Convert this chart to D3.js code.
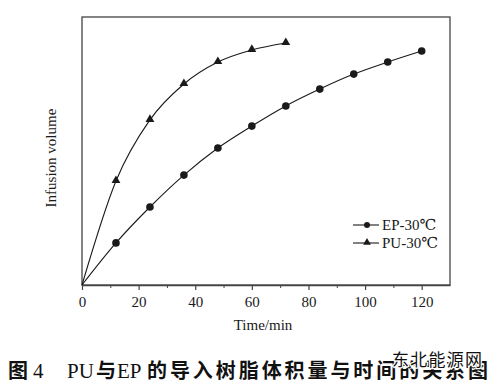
<!DOCTYPE html>
<html lang="zh">
<head>
    <meta charset="UTF-8">
    <title>PU vs EP infusion volume</title>
    <script src="https://d3js.org/d3.v7.min.js"></script>
    <style>
        body { margin: 0; background: #fff; }
        svg { display: block; }
    </style>
</head>
<body>
<div id="chart"></div>
<script>
    // Sample times (min) and infusion volume (arbitrary units)
    var epTimes = [0, 12, 24, 36, 48, 60, 72, 84, 96, 108, 120];
    var epValues = [0, 15.7, 29.1, 41.0, 51.1, 59.3, 66.8, 73.1, 78.7, 83.2, 87.3];
    var puTimes = [0, 12, 24, 36, 48, 60, 72];
    var puValues = [0, 38.8, 61.6, 75.0, 83.2, 87.7, 90.3];
    var xTicks = [0, 20, 40, 60, 80, 100, 120];
    var xMinorTicks = [10, 30, 50, 70, 90, 110];
    var seriesNames = ["EP-30℃", "PU-30℃"];

    var width = 500, height = 385;
    var margin = { left: 82, top: 17, right: 50, bottom: 100 };
    var ink = "#1a1a1a";
    var serif = "'Liberation Serif', 'DejaVu Serif', serif";

    var svg = d3.select("#chart").append("svg")
        .attr("width", width)
        .attr("height", height);

    var x = d3.scaleLinear().domain([0, 130]).range([margin.left, width - margin.right]);
    var y = d3.scaleLinear().domain([0, 100]).range([height - margin.bottom, margin.top]);

    // frame
    svg.append("rect")
        .attr("x", x(0)).attr("y", y(100))
        .attr("width", x(130) - x(0)).attr("height", y(0) - y(100))
        .attr("fill", "none").attr("stroke", "#444").attr("stroke-width", 1.3);

    // x axis: labelled major ticks, short minor ticks
    var xAxis = svg.append("g")
        .attr("transform", "translate(0," + y(0) + ")")
        .call(d3.axisBottom(x).tickValues(xTicks).tickSizeInner(5).tickSizeOuter(0).tickPadding(6));
    xAxis.select(".domain").attr("stroke", "#444").attr("stroke-width", 1.3);
    xAxis.selectAll(".tick line").attr("stroke", "#444").attr("stroke-width", 1.2);
    xAxis.selectAll(".tick text")
        .attr("font-family", serif).attr("font-size", 15).attr("fill", ink);

    svg.append("g")
        .attr("transform", "translate(0," + y(0) + ")")
        .call(d3.axisBottom(x).tickValues(xMinorTicks).tickSize(3).tickFormat(""))
        .call(g => g.select(".domain").remove())
        .selectAll(".tick line").attr("stroke", "#444");

    // axis titles
    svg.append("text")
        .attr("x", (x(0) + x(130)) / 2 - 3).attr("y", 330)
        .attr("text-anchor", "middle")
        .attr("font-family", serif).attr("font-size", 15).attr("fill", ink)
        .text("Time/min");

    svg.append("text")
        .attr("transform", "translate(56,158) rotate(-90)")
        .attr("text-anchor", "middle")
        .attr("font-family", serif).attr("font-size", 15).attr("fill", ink)
        .text("Infusion volume");

    var line = d3.line()
        .x(d => x(d[0]))
        .y(d => y(d[1]))
        .curve(d3.curveMonotoneX);

    var epData = epTimes.map((t, i) => [t, epValues[i]]);
    var puData = puTimes.map((t, i) => [t, puValues[i]]);

    var triangle = d3.symbol().type(d3.symbolTriangle).size(34);

    [epData, puData].forEach(function (data, k) {
        svg.append("path")
            .datum(data)
            .attr("d", line)
            .attr("fill", "none")
            .attr("stroke", ink)
            .attr("stroke-width", 1.1);

        var pts = svg.append("g").selectAll("path")
            .data(data.filter(d => d[0] > 0))
            .enter();

        if (k === 0) {
            pts.append("circle")
                .attr("cx", d => x(d[0])).attr("cy", d => y(d[1]))
                .attr("r", 3.8).attr("fill", ink);
        } else {
            pts.append("path")
                .attr("transform", d => "translate(" + x(d[0]) + "," + (y(d[1]) - 0.5) + ")")
                .attr("d", triangle).attr("fill", ink);
        }
    });

    // legend
    var legend = svg.append("g").attr("transform", "translate(353,225)");
    seriesNames.forEach(function (name, i) {
        var g = legend.append("g").attr("transform", "translate(0," + (i * 18) + ")");
        g.append("line").attr("x1", 0).attr("x2", 26).attr("y1", 0).attr("y2", 0)
            .attr("stroke", ink).attr("stroke-width", 1.1);
        if (i === 0) {
            g.append("circle").attr("cx", 14).attr("cy", 0).attr("r", 3).attr("fill", ink);
        } else {
            g.append("path").attr("transform", "translate(14,-0.5)")
                .attr("d", d3.symbol().type(d3.symbolTriangle).size(26)).attr("fill", ink);
        }
        g.append("text").attr("x", 29).attr("y", 5)
            .attr("font-family", serif).attr("font-size", 15).attr("fill", ink)
            .text(name);
    });

    // figure caption
    var cjk = "'Noto Sans CJK SC', sans-serif";
    var capY = 378;
    var cap = svg.append("g").attr("fill", "#111").attr("font-size", 20);
    cap.append("text").attr("x", 8).attr("y", capY).attr("font-family", cjk).attr("font-weight", 700).text("图");
    cap.append("text").attr("x", 33).attr("y", capY).attr("font-family", serif).attr("font-size", 21).text("4");
    cap.append("text").attr("x", 67).attr("y", capY).attr("font-family", serif).attr("font-size", 21).text("PU");
    cap.append("text").attr("x", 96).attr("y", capY).attr("font-family", cjk).attr("font-weight", 700).text("与");
    cap.append("text").attr("x", 117).attr("y", capY).attr("font-family", serif).attr("font-size", 21).text("EP");
    cap.append("text").attr("x", 147).attr("y", capY).attr("font-family", cjk).attr("font-weight", 700)
        .attr("textLength", 341).attr("lengthAdjust", "spacing")
        .text("的导入树脂体积量与时间的关系图");

    // site watermark
    svg.append("text")
        .attr("x", 392).attr("y", 366)
        .attr("font-family", cjk).attr("font-size", 17)
        .attr("textLength", 90)
        .attr("fill", "#111").attr("stroke", "#fff").attr("stroke-width", 2.5)
        .attr("paint-order", "stroke")
        .text("东北能源网");
</script>
</body>
</html>
